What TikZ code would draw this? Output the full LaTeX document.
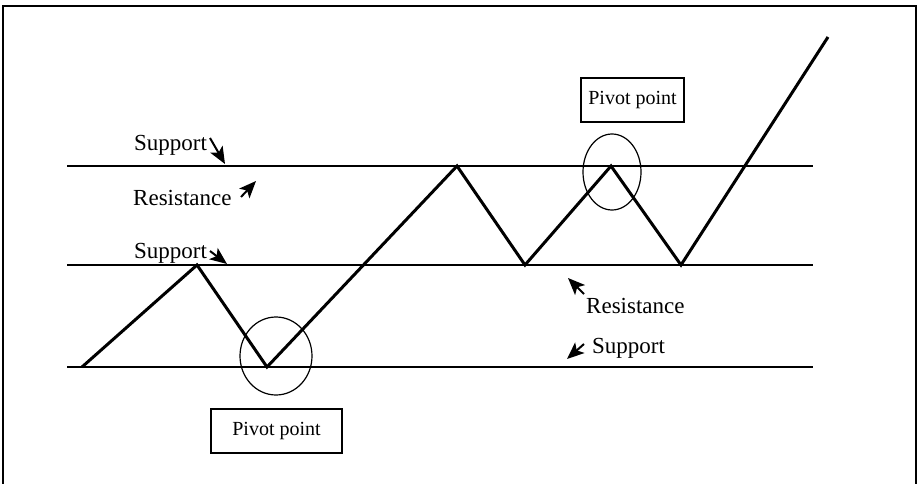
\documentclass[tikz,border=0pt]{standalone}
\usepackage{fontspec}
\setmainfont{Liberation Serif}
\usepackage{tikz}
\usetikzlibrary{arrows.meta,positioning}

\tikzset{
  level/.style={line width=1.6pt},
  price/.style={line width=3pt, line join=miter},
  pivotring/.style={line width=1.2pt},
  tag/.style={font=\fontsize{23}{27}\selectfont, inner sep=0pt, anchor=base west},
  pivotbox/.style={draw, line width=1.3pt, minimum height=44pt, inner sep=0pt,
    font=\fontsize{20}{24}\selectfont},
  pointer/.style={line width=2pt, -{Stealth[length=17pt,width=14pt,inset=4pt]}}
}

\begin{document}
\begin{tikzpicture}[x=1pt,y=-1pt]
  \useasboundingbox (0,0) rectangle (921,484);

  % frame, open at the bottom
  \draw[line width=1.5pt] (3,484) -- (3,6) -- (916,6) -- (916,484);

  % support and resistance levels
  \draw[level] (67,166) -- (813,166);
  \draw[level] (67,265) -- (813,265);
  \draw[level] (67,367) -- (813,367);

  % price
  \draw[price] (82,367) -- (197,265) -- (267,367) -- (457,166) -- (525,265)
    -- (611,166) -- (681,265) -- (828,37);

  % pivots
  \draw[pivotring] (276,356) ellipse (36 and 39);
  \draw[pivotring] (612,172) ellipse (29 and 38);
  \node[pivotbox, minimum width=103pt] (pivottop) at (632.5,100) {Pivot point};
  \node[pivotbox, minimum width=131pt] (pivotlow) at (276.5,431) {Pivot point};

  % labels
  \node[tag] (supA) at (134,151) {Support};
  \node[tag] (resA) at (133,205) {Resistance};
  \node[tag] (supB) at (134,258) {Support};
  \node[tag] (resB) at (586,313) {Resistance};
  \node[tag] (supC) at (592,353) {Support};

  \coordinate (supAtail) at (210,138);
  \coordinate (supAhead) at (225,164);
  \coordinate (resAtail) at (241,197);
  \coordinate (resAhead) at (256,181);
  \coordinate (supBtail) at (210,251);
  \coordinate (supBhead) at (227,264);
  \coordinate (resBtail) at (584,294);
  \coordinate (resBhead) at (568,278);
  \coordinate (supCtail) at (584,344);
  \coordinate (supChead) at (567,359);
  \draw[pointer] (supAtail) -- (supAhead);
  \draw[pointer] (resAtail) -- (resAhead);
  \draw[pointer] (supBtail) -- (supBhead);
  \draw[pointer] (resBtail) -- (resBhead);
  \draw[pointer] (supCtail) -- (supChead);
\end{tikzpicture}
\end{document}
